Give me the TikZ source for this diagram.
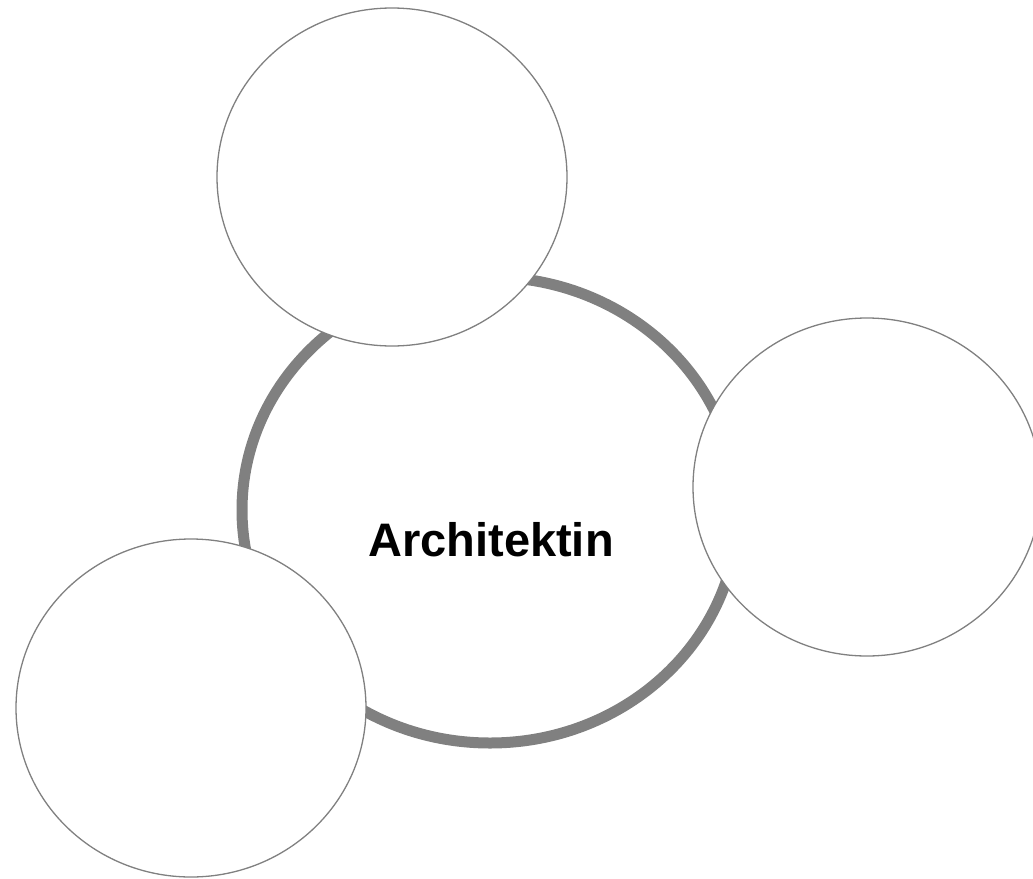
\documentclass[tikz,border=0pt]{standalone}
\usepackage{fontspec}
\setmainfont{Liberation Sans}
\begin{document}
\begin{tikzpicture}[x=1pt,y=-1pt,
  ring/.style={draw=gray50,line width=11pt},
  bubble/.style={draw=gray50,line width=1.3pt,fill=white},
  label/.style={font=\fontsize{47}{56}\selectfont\bfseries,text=black}]
\definecolor{gray50}{HTML}{808080}
\useasboundingbox (0,0) rectangle (1033,878);
\clip (0,0) rectangle (1033,878);
\draw[ring] (490,510) ellipse [x radius=248, y radius=233];
\node[label] (center) at (491,540) {Architektin};
\draw[bubble] (392,177) ellipse [x radius=175, y radius=169];
\draw[bubble] (867,487) ellipse [x radius=174, y radius=169];
\draw[bubble] (191,708) ellipse [x radius=175, y radius=169];
\end{tikzpicture}
\end{document}
